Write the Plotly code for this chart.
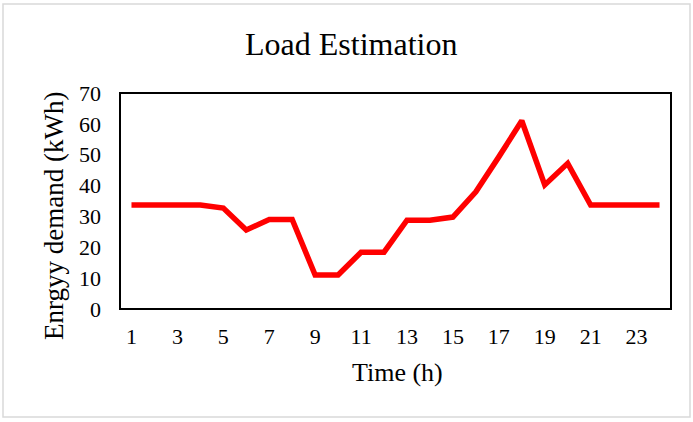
import plotly.graph_objects as go

# Hourly load profile
hours = list(range(1, 25))
demand_kwh = [33.7, 33.7, 33.7, 33.7, 32.7, 25.6, 29.0, 29.0, 11.0, 11.0,
              18.4, 18.4, 28.8, 28.8, 29.8, 38.0, 49.3, 61.0, 40.2, 47.2,
              33.7, 33.7, 33.7, 33.7]
x_tick_vals = list(range(1, 25, 2))
y_tick_vals = list(range(0, 80, 10))

W, H = 693, 422
L, R, T, B = 120, 22, 93, 113
pw, ph = W - L - R, H - T - B


def px_x(px):
    return (px - L) / pw


def px_y(py):
    return (H - B - py) / ph


font_family = "Liberation Serif, Times New Roman, serif"

fig = go.Figure(
    go.Scatter(
        x=hours,
        y=demand_kwh,
        mode="lines",
        line=dict(color="#ff0000", width=5.5),
        hoverinfo="x+y",
    )
)

fig.update_layout(
    width=W,
    height=H,
    margin=dict(l=L, r=R, t=T, b=B),
    paper_bgcolor="white",
    plot_bgcolor="white",
    showlegend=False,
    font=dict(family=font_family, color="black", size=22),
    shapes=[
        # outer chart frame
        dict(type="rect", xref="paper", yref="paper",
             x0=px_x(3), x1=px_x(690), y0=px_y(417), y1=px_y(4),
             line=dict(color="#d9d9d9", width=1.5), layer="below"),
        # plot area frame
        dict(type="rect", xref="paper", yref="paper",
             x0=0, x1=1, y0=0, y1=1,
             line=dict(color="black", width=2)),
    ],
    annotations=[
        dict(text="Load Estimation", xref="paper", yref="paper",
             x=px_x(351), y=px_y(44), xanchor="center", yanchor="middle",
             showarrow=False, font=dict(size=32, family=font_family)),
        dict(text="Enrgyy demand (kWh)", xref="paper", yref="paper",
             x=px_x(54), y=px_y(216), xanchor="center", yanchor="middle",
             textangle=-90, showarrow=False,
             font=dict(size=27, family=font_family)),
        dict(text="Time (h)", xref="paper", yref="paper",
             x=px_x(397), y=px_y(372), xanchor="center", yanchor="middle",
             showarrow=False, font=dict(size=26, family=font_family)),
    ],
)

fig.update_xaxes(
    range=[0.5, 24.5],
    tickvals=x_tick_vals,
    ticktext=[str(v) for v in x_tick_vals],
    showgrid=False,
    zeroline=False,
    showline=False,
    ticks="",
    ticklabelstandoff=12,
)
fig.update_yaxes(
    range=[0, 70],
    tickvals=y_tick_vals,
    ticktext=[str(v) for v in y_tick_vals],
    showgrid=False,
    zeroline=False,
    showline=False,
    ticks="",
    ticklabelstandoff=18,
)

fig.write_html("out.html")
